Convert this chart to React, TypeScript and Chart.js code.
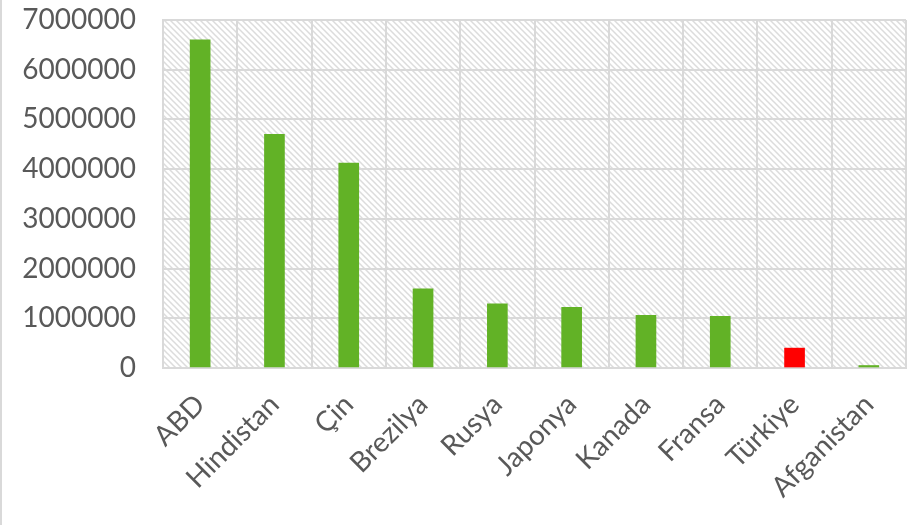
import React, { useEffect, useRef } from "react";
import { Chart, registerables } from "chart.js";

Chart.register(...registerables);

const categories = ["ABD", "Hindistan", "Çin", "Brezilya", "Rusya", "Japonya", "Kanada", "Fransa", "Türkiye", "Afganistan"];
const values = [6600000, 4700000, 4120000, 1590000, 1290000, 1220000, 1060000, 1040000, 400000, 50000];
const highlight = "Türkiye";
const yMax = 7000000;
const yStep = 1000000;

const GREEN = "#62B226";
const RED = "#FF0000";
const GRID = "#D9D9D9";
const TEXT = "#595959";
const FONT = "Lato, 'Open Sans', sans-serif";

function makePattern(ctx: CanvasRenderingContext2D): CanvasPattern | string {
  const size = 6;
  const c = document.createElement("canvas");
  c.width = size;
  c.height = size;
  const p = c.getContext("2d");
  if (!p) return "#fff";
  p.fillStyle = "#ffffff";
  p.fillRect(0, 0, size, size);
  p.strokeStyle = "#DCDCDC";
  p.lineWidth = 1.5;
  p.beginPath();
  p.moveTo(-1, -1);
  p.lineTo(size + 1, size + 1);
  p.moveTo(-1, size - 1);
  p.lineTo(1, size + 1);
  p.moveTo(size - 1, -1);
  p.lineTo(size + 1, 1);
  p.stroke();
  return ctx.createPattern(c, "repeat") || "#fff";
}

const backgroundPlugin = {
  id: "hatchBg",
  beforeDraw(chart: any) {
    const { ctx, chartArea } = chart;
    ctx.save();
    ctx.fillStyle = "#ffffff";
    ctx.fillRect(0, 0, chart.width, chart.height);
    ctx.fillStyle = makePattern(ctx);
    ctx.fillRect(chartArea.left, chartArea.top, chartArea.right - chartArea.left, chartArea.bottom - chartArea.top);
    ctx.fillStyle = GRID;
    ctx.fillRect(0, 0, 2, chart.height);
    ctx.restore();
  },
};

export default function App() {
  const ref = useRef<HTMLCanvasElement | null>(null);

  useEffect(() => {
    document.body.style.margin = "0";
    if (!ref.current) return;
    const chart = new Chart(ref.current, {
      type: "bar",
      data: {
        labels: categories,
        datasets: [
          {
            data: values,
            backgroundColor: categories.map((c) => (c === highlight ? RED : GREEN)),
            barThickness: 20,
            borderWidth: 0,
          },
        ],
      },
      options: {
        animation: false,
        responsive: false,
        maintainAspectRatio: false,
        layout: { padding: { top: 20, right: 11, left: 0, bottom: 0 } },
        plugins: { legend: { display: false }, tooltip: { enabled: false } },
        scales: {
          x: {
            offset: true,
            grid: { offset: true, color: GRID, lineWidth: 2, drawTicks: false },
            border: { color: GRID, width: 2 },
            ticks: {
              minRotation: 45,
              maxRotation: 45,
              autoSkip: false,
              padding: 20,
              color: TEXT,
              font: { family: FONT, size: 28 },
            },
            afterFit: (scale: any) => {
              scale.height = 157;
              scale.paddingRight = 0;
            },
          },
          y: {
            min: 0,
            max: yMax,
            grid: { color: GRID, lineWidth: 2, drawTicks: false },
            border: { color: GRID, width: 2 },
            ticks: {
              stepSize: yStep,
              padding: 27,
              color: TEXT,
              font: { family: FONT, size: 28 },
              callback: (v: any) => String(v),
            },
            afterFit: (scale: any) => {
              scale.width = 163;
              scale.paddingTop = 0;
              scale.paddingBottom = 0;
            },
          },
        },
      },
      plugins: [backgroundPlugin],
    });
    return () => chart.destroy();
  }, []);

  return (
    <div style={{ width: 917, height: 525 }}>
      <canvas ref={ref} width={917} height={525} style={{ display: "block", width: 917, height: 525 }} />
    </div>
  );
}
